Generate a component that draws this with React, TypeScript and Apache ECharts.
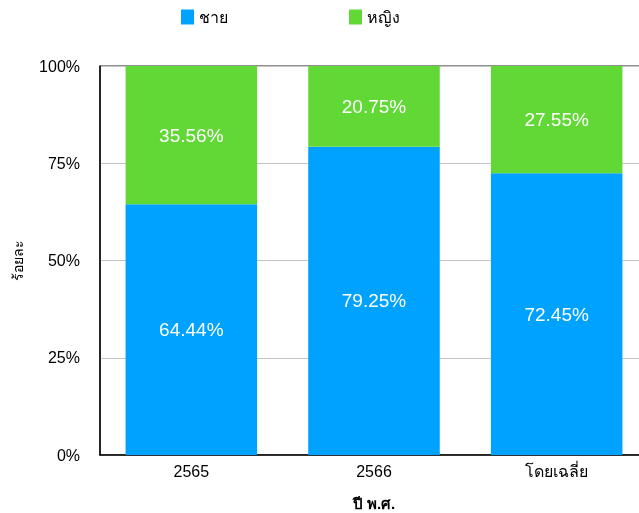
import React, { useEffect, useRef } from "react";
import * as echarts from "echarts";

// Share of respondents by sex, per Buddhist-era year and on average
const categories = ["2565", "2566", "โดยเฉลี่ย"];
const maleShare = [64.44, 79.25, 72.45];
const femaleShare = [35.56, 20.75, 27.55];
const yTicks = [0, 25, 50, 75, 100];

const FONT = "'Liberation Sans', Arial, Helvetica, sans-serif";

export default function App() {
  const ref = useRef<HTMLDivElement>(null);

  useEffect(() => {
    if (!ref.current) return;
    const chart = echarts.init(ref.current, undefined, { renderer: "svg" });

    const label = {
      show: true,
      position: "inside",
      color: "#ffffff",
      fontSize: 19,
      fontFamily: FONT,
      formatter: (p: any) => `${Number(p.value).toFixed(2)}%`,
    };

    const legendCommon = {
      top: 9,
      padding: 0,
      itemWidth: 13,
      itemHeight: 15,
      itemGap: 8,
      icon: "rect",
      textStyle: { fontSize: 16, color: "#000", fontFamily: FONT },
    };

    chart.setOption({
      animation: false,
      textStyle: { fontFamily: FONT },
      legend: [
        { ...legendCommon, left: 181, data: ["ชาย"] },
        { ...legendCommon, left: 349, data: ["หญิง"] },
      ],
      grid: {
        left: 100,
        top: 66,
        width: 548,
        height: 389,
        outerBoundsMode: "none",
        containLabel: false,
        show: true,
        borderColor: "#222",
        borderWidth: 1,
        backgroundColor: "transparent",
      },
      xAxis: {
        type: "category",
        data: categories,
        name: "ปี พ.ศ.",
        nameLocation: "middle",
        nameGap: 41,
        nameTextStyle: { fontSize: 15, fontWeight: "bold", color: "#000", fontFamily: FONT },
        axisLine: { show: true, lineStyle: { color: "#000", width: 1.5 } },
        axisTick: { show: false },
        axisLabel: { fontSize: 16, color: "#000", margin: 8, fontFamily: FONT },
      },
      yAxis: {
        type: "value",
        min: yTicks[0],
        max: yTicks[yTicks.length - 1],
        interval: 25,
        name: "ร้อยละ",
        nameLocation: "middle",
        nameGap: 75,
        nameRotate: 90,
        nameTextStyle: { fontSize: 14, color: "#000", fontFamily: FONT },
        axisLine: { show: true, lineStyle: { color: "#000", width: 1.5 } },
        axisTick: { show: false },
        axisLabel: {
          fontSize: 16,
          color: "#000",
          margin: 20,
          fontFamily: FONT,
          formatter: (v: number) => `${v}%`,
        },
        splitLine: { show: true, lineStyle: { color: "#c4c4c4", width: 1 } },
      },
      series: [
        {
          name: "ชาย",
          type: "bar",
          stack: "total",
          barWidth: "72%",
          data: maleShare,
          itemStyle: { color: "#00A2FF" },
          label,
        },
        {
          name: "หญิง",
          type: "bar",
          stack: "total",
          barWidth: "72%",
          data: femaleShare,
          itemStyle: { color: "#61D836" },
          label,
        },
      ],
    });

    return () => chart.dispose();
  }, []);

  return <div ref={ref} style={{ width: 639, height: 513, position: "fixed", left: 0, top: 0 }} />;
}
